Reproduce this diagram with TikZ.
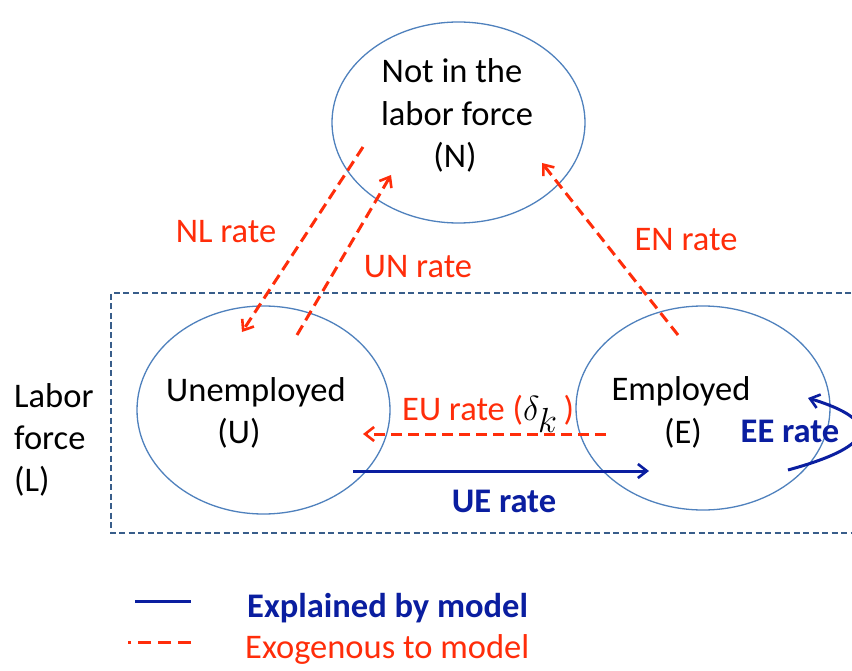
\documentclass[tikz,border=0pt]{standalone}
\usepackage{fontspec}
\setmainfont{Carlito}
\usetikzlibrary{shapes.geometric,arrows.meta}

\definecolor{ringblue}{RGB}{79,129,189}
\definecolor{boxblue}{RGB}{56,93,138}
\definecolor{flowred}{RGB}{255,45,10}
\definecolor{modelblue}{RGB}{10,30,160}

\tikzset{
  state/.style={draw=ringblue, line width=1.3pt, ellipse, inner sep=0pt},
  txt/.style={font=\fontsize{34.5}{42}\selectfont, inner sep=0pt, anchor=base},
  redtxt/.style={txt, text=flowred},
  bluetxt/.style={txt, text=modelblue, font=\fontsize{34.5}{42}\selectfont\bfseries},
  exo/.style={draw=flowred, line width=3pt, dash pattern=on 11pt off 6pt,
    -{Straight Barb[length=9pt,width=14pt,line width=2.6pt]}},
  endo/.style={draw=modelblue, line width=3pt,
    -{Straight Barb[length=9pt,width=14pt,line width=2.6pt]}},
  lfbox/.style={draw=boxblue, line width=1.3pt, dash pattern=on 6pt off 3.5pt}
}

\begin{document}
\begin{tikzpicture}[x=1pt,y=-1pt]
  \useasboundingbox (0,0) rectangle (852,671);
  \fill[white] (0,0) rectangle (852,671);

  % labor-force box (runs off the right edge)
  \draw[lfbox] (870,293) -- (111,293) -- (111,533) -- (870,533);

  % the three states
  \node[state, minimum width=253pt, minimum height=201pt] (N) at (458.5,122.5) {};
  \node[state, minimum width=253pt, minimum height=208pt] (U) at (263.5,410) {};
  \node[state, minimum width=254pt, minimum height=204pt] (E) at (703,408) {};

  % state names
  \node[txt] (n1) at (452,83) {Not in the};
  \node[txt] (n2) at (457,126) {labor force};
  \node[txt] (n3) at (455,168) {(N)};
  \node[txt] (u1) at (256,401) {Unemployed};
  \node[txt] (u2) at (239,443) {(U)};
  \node[txt] (e1) at (681,400) {Employed};
  \node[txt] (e2) at (683,443) {(E)};
  \node[txt, anchor=base west] (lf1) at (14,407) {Labor};
  \node[txt, anchor=base west] (lf2) at (14,449) {force};
  \node[txt, anchor=base west] (lf3) at (14,491) {(L)};

  % end points of the flows
  \coordinate (nlA) at (363,147);
  \coordinate (nlB) at (242,332);
  \coordinate (unA) at (297,335);
  \coordinate (unB) at (391,175);
  \coordinate (enA) at (678,335);
  \coordinate (enB) at (542,163);
  \coordinate (euA) at (606,434);
  \coordinate (euB) at (363,434);
  \coordinate (ueA) at (353,471);
  \coordinate (ueB) at (649,471);
  \coordinate (eeA) at (788,470);
  \coordinate (eeB) at (808,398);

  % exogenous flows
  \draw[exo] (nlA) -- (nlB);
  \draw[exo] (unA) -- (unB);
  \draw[exo] (enA) -- (enB);
  \draw[exo] (euA) -- (euB);

  % flows explained by the model
  \draw[endo] (ueA) -- (ueB);
  \draw[endo] (eeA) .. controls (880,445) and (880,420) .. (eeB);

  % flow labels
  \node[redtxt] (nl) at (226,243) {NL rate};
  \node[redtxt] (un) at (418,278) {UN rate};
  \node[redtxt] (en) at (686,251) {EN rate};
  \node[redtxt, anchor=base west] (eu) at (402,420)
    {EU rate (\textcolor{black}{\scalebox{1.4}{$\delta_k$}}\,)};
  \node[bluetxt] (ue) at (504,512) {UE rate};
  \node[bluetxt] (ee) at (790,442) {EE rate};

  % legend
  \coordinate (lgA) at (135,601);
  \coordinate (lgB) at (191,601);
  \coordinate (lgC) at (191,642);
  \coordinate (lgD) at (128,642);
  \draw[draw=modelblue, line width=3pt] (lgA) -- (lgB);
  \draw[draw=flowred, line width=3pt, dash pattern=on 13pt off 7pt] (lgC) -- (lgD);
  \node[bluetxt, anchor=base west] (lg1) at (247,617) {Explained by model};
  \node[redtxt, anchor=base west] (lg2) at (245,658) {Exogenous to model};
\end{tikzpicture}
\end{document}
